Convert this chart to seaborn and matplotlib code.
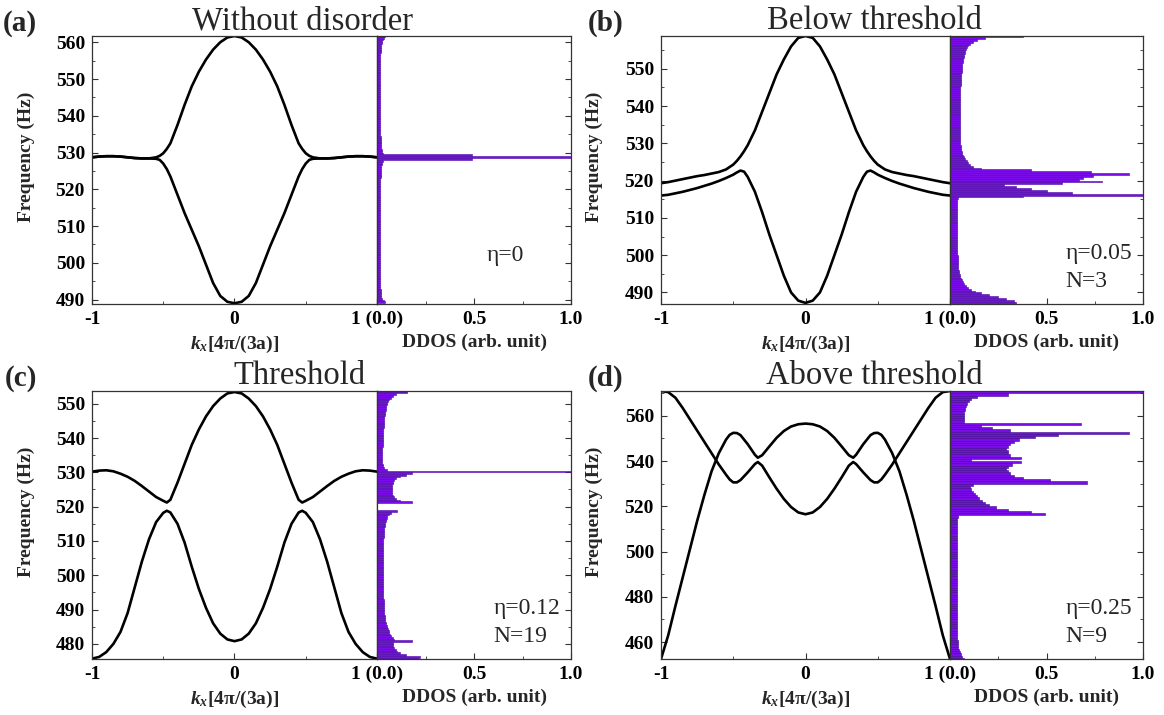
import numpy as np
import matplotlib
matplotlib.use("Agg")
import matplotlib.pyplot as plt
import seaborn as sns
from matplotlib.ticker import MultipleLocator, FixedLocator

sns.set_theme(style="white")
plt.rcParams['font.family'] = ['Liberation Serif', 'DejaVu Serif']
plt.rcParams['mathtext.fontset'] = 'custom'
plt.rcParams['mathtext.rm'] = 'Liberation Serif'
plt.rcParams['mathtext.it'] = 'Liberation Serif:italic'
plt.rcParams['mathtext.bf'] = 'Liberation Serif:bold'
try:
    plt.rcParams['mathtext.bfit'] = 'Liberation Serif:italic:bold'
except KeyError:
    pass

# ---------------- band-structure data ----------------
K_A = [-1.00, -0.95, -0.90, -0.85, -0.80, -0.75, -0.70, -0.65, -0.60, -0.55,
       -0.525, -0.50, -0.475, -0.45, -0.40, -0.35, -0.30, -0.25, -0.20, -0.15, -0.10, -0.05,
       0.00, 0.05, 0.10, 0.15, 0.20, 0.25, 0.30, 0.35, 0.40, 0.45, 0.475,
       0.50, 0.525, 0.55, 0.60, 0.65, 0.70, 0.75, 0.80, 0.85, 0.90, 0.95, 1.00]
A_UP = [528.7, 528.9, 529.0, 529.0, 528.9, 528.7, 528.5, 528.4, 528.4, 528.7,
        529.1, 529.8, 531.0, 532.5, 537.5, 543.0, 548.0, 552.0, 555.3, 558.0, 560.0, 561.3,
        561.7, 561.3, 560.0, 558.0, 555.3, 552.0, 548.0, 543.0, 537.5, 532.5, 531.0,
        529.8, 529.1, 528.7, 528.4, 528.4, 528.5, 528.7, 528.9, 529.0, 529.0, 528.9, 528.7]
A_LO = [528.7, 528.9, 529.0, 529.0, 528.9, 528.7, 528.5, 528.4, 528.4, 528.3,
        528.0, 527.0, 525.5, 523.5, 518.5, 513.5, 509.0, 504.5, 499.5, 494.5, 491.0, 489.4,
        489.0, 489.4, 491.0, 494.5, 499.5, 504.5, 509.0, 513.5, 518.5, 523.5, 525.5,
        527.0, 528.0, 528.3, 528.4, 528.4, 528.5, 528.7, 528.9, 529.0, 529.0, 528.9, 528.7]

K_B = [-1.00, -0.95, -0.90, -0.85, -0.80, -0.75, -0.70, -0.65, -0.60, -0.55,
       -0.50, -0.475, -0.45, -0.425, -0.40, -0.35, -0.30, -0.25, -0.20, -0.15, -0.10, -0.05,
       0.00, 0.05, 0.10, 0.15, 0.20, 0.25, 0.30, 0.35, 0.40, 0.425, 0.45, 0.475,
       0.50, 0.55, 0.60, 0.65, 0.70, 0.75, 0.80, 0.85, 0.90, 0.95, 1.00]
B_UP = [519.3, 519.6, 520.0, 520.4, 520.8, 521.2, 521.5, 521.9, 522.3, 523.0,
        524.3, 525.3, 526.5, 527.9, 529.5, 533.5, 538.5, 543.5, 548.5, 552.5, 556.0, 558.3,
        558.8, 558.3, 556.0, 552.5, 548.5, 543.5, 538.5, 533.5, 529.5, 527.9, 526.5, 525.3,
        524.3, 523.0, 522.3, 521.9, 521.5, 521.2, 520.8, 520.4, 520.0, 519.6, 519.3]
B_LO = [516.0, 516.2, 516.6, 517.0, 517.5, 518.0, 518.6, 519.2, 519.9, 520.7,
        521.6, 522.2, 522.7, 522.4, 521.0, 517.0, 511.5, 505.5, 500.0, 494.5, 490.0, 487.8,
        487.2, 487.8, 490.0, 494.5, 500.0, 505.5, 511.5, 517.0, 521.0, 522.4, 522.7, 522.2,
        521.6, 520.7, 519.9, 519.2, 518.6, 518.0, 517.5, 517.0, 516.6, 516.2, 516.0]

K_C = [-1.00, -0.95, -0.90, -0.85, -0.80, -0.75, -0.70, -0.65, -0.60, -0.55,
       -0.50, -0.475, -0.45, -0.40, -0.35, -0.30, -0.25, -0.20, -0.15, -0.10, -0.05,
       0.00, 0.05, 0.10, 0.15, 0.20, 0.25, 0.30, 0.35, 0.40, 0.45, 0.475,
       0.50, 0.55, 0.60, 0.65, 0.70, 0.75, 0.80, 0.85, 0.90, 0.95, 1.00]
C_UP = [530.2, 530.5, 530.6, 530.3, 529.6, 528.7, 527.5, 526.0, 524.4, 522.8,
        521.7, 521.2, 522.0, 527.0, 532.5, 538.0, 542.5, 546.3, 549.3, 551.5, 553.0,
        553.4, 553.0, 551.5, 549.3, 546.3, 542.5, 538.0, 532.5, 527.0, 522.0, 521.2,
        521.7, 522.8, 524.4, 526.0, 527.5, 528.7, 529.6, 530.3, 530.6, 530.5, 530.2]
C_LO = [475.7, 476.2, 477.6, 480.0, 483.5, 489.0, 496.5, 504.0, 510.5, 515.5,
        518.2, 518.8, 518.3, 515.0, 509.5, 502.5, 496.0, 490.5, 486.0, 483.0, 481.3,
        480.8, 481.3, 483.0, 486.0, 490.5, 496.0, 502.5, 509.5, 515.0, 518.3, 518.8,
        518.2, 515.5, 510.5, 504.0, 496.5, 489.0, 483.5, 480.0, 477.6, 476.2, 475.7]

K_D = [-1.00, -0.95, -0.90, -0.85, -0.80, -0.75, -0.70, -0.65, -0.60, -0.55,
       -0.525, -0.50, -0.475, -0.45, -0.40, -0.35, -0.33, -0.30, -0.25, -0.20, -0.15,
       -0.10, -0.05, 0.00, 0.05, 0.10,
       0.15, 0.20, 0.25, 0.30, 0.33, 0.35, 0.40, 0.45, 0.475, 0.50, 0.525,
       0.55, 0.60, 0.65, 0.70, 0.75, 0.80, 0.85, 0.90, 0.95, 1.00]
D_1 = [571.0, 570.5, 568.0, 563.5, 558.5, 553.5, 548.5, 543.5, 538.5, 534.0,
       531.9, 530.6, 530.6, 531.6, 535.0, 538.7, 539.6, 538.0, 532.8, 527.8, 523.3,
       519.7, 517.3, 516.5, 517.3, 519.7,
       523.3, 527.8, 532.8, 538.0, 539.6, 538.7, 535.0, 531.6, 530.6, 530.6, 531.9,
       534.0, 538.5, 543.5, 548.5, 553.5, 558.5, 563.5, 568.0, 570.5, 571.0]
D_2 = [452.5, 463.0, 476.0, 488.5, 501.0, 513.5, 525.0, 535.5, 543.5, 549.5,
       551.6, 552.5, 552.4, 551.5, 547.5, 542.8, 541.5, 542.6, 546.5, 550.3, 553.3,
       555.3, 556.3, 556.6, 556.3, 555.3,
       553.3, 550.3, 546.5, 542.6, 541.5, 542.8, 547.5, 551.5, 552.4, 552.5, 551.6,
       549.5, 543.5, 535.5, 525.0, 513.5, 501.0, 488.5, 476.0, 463.0, 452.5]

# ---------------- DDOS histogram data ----------------
DOS_A_START, DOS_A_BIN = 489.0, 0.5
DOS_A = [0.042, 0.034, 0.027, 0.023, 0.021, 0.020, 0.019, 0.019, 0.018, 0.018,
         0.018, 0.018, 0.017, 0.018, 0.017, 0.017, 0.018, 0.017, 0.017, 0.017,
         0.017, 0.017, 0.017, 0.017, 0.017, 0.017, 0.017, 0.017, 0.017, 0.017,
         0.017, 0.017, 0.017, 0.017, 0.017, 0.017, 0.017, 0.017, 0.017, 0.017,
         0.017, 0.017, 0.017, 0.017, 0.017, 0.017, 0.017, 0.017, 0.017, 0.017,
         0.017, 0.017, 0.017, 0.017, 0.017, 0.017, 0.017, 0.017, 0.017, 0.017,
         0.017, 0.017, 0.017, 0.017, 0.018, 0.018, 0.018, 0.018, 0.019, 0.019,
         0.019, 0.020, 0.020, 0.021, 0.022, 0.024, 0.027, 0.032, 0.490, 1.000,
         0.490, 0.032, 0.027, 0.024, 0.022, 0.021, 0.020, 0.020, 0.019, 0.019,
         0.019, 0.018, 0.018, 0.018, 0.018, 0.017, 0.017, 0.017, 0.017, 0.017,
         0.017, 0.017, 0.017, 0.017, 0.017, 0.017, 0.017, 0.017, 0.017, 0.017,
         0.017, 0.017, 0.017, 0.017, 0.017, 0.017, 0.017, 0.017, 0.017, 0.017,
         0.017, 0.017, 0.017, 0.017, 0.017, 0.017, 0.017, 0.017, 0.017, 0.017,
         0.017, 0.017, 0.018, 0.018, 0.018, 0.018, 0.019, 0.019, 0.020, 0.021,
         0.022, 0.024, 0.027, 0.031, 0.036, 0.042]

DOS_B_START, DOS_B_BIN = 487.0, 0.5
DOS_B = [0.340, 0.330, 0.290, 0.250, 0.200, 0.160, 0.130, 0.110, 0.095, 0.085,
         0.075, 0.068, 0.062, 0.058, 0.054, 0.051, 0.048, 0.046, 0.044, 0.043,
         0.042, 0.041, 0.040, 0.040, 0.039, 0.039, 0.038, 0.038, 0.037, 0.037,
         0.037, 0.036, 0.036, 0.036, 0.035, 0.035, 0.035, 0.035, 0.035, 0.034,
         0.034, 0.034, 0.034, 0.034, 0.034, 0.034, 0.034, 0.034, 0.034, 0.035,
         0.035, 0.035, 0.036, 0.036, 0.037, 0.038, 0.040, 0.380, 1.000, 0.630,
         0.500, 0.420, 0.340, 0.280, 0.580, 0.790, 0.670, 0.690, 0.740, 0.930,
         0.730, 0.420, 0.160, 0.120, 0.105, 0.095, 0.086, 0.078, 0.072, 0.068,
         0.064, 0.061, 0.058, 0.056, 0.055, 0.054, 0.053, 0.053, 0.052, 0.052,
         0.052, 0.052, 0.051, 0.051, 0.051, 0.051, 0.051, 0.051, 0.051, 0.051,
         0.051, 0.051, 0.051, 0.051, 0.051, 0.052, 0.052, 0.052, 0.052, 0.052,
         0.052, 0.053, 0.053, 0.053, 0.054, 0.054, 0.054, 0.055, 0.055, 0.056,
         0.056, 0.057, 0.058, 0.059, 0.060, 0.061, 0.062, 0.063, 0.064, 0.066,
         0.067, 0.069, 0.071, 0.073, 0.076, 0.079, 0.083, 0.088, 0.095, 0.105,
         0.120, 0.140, 0.180, 0.380]

DOS_C_START, DOS_C_BIN = 475.5, 0.5
DOS_C = [0.210, 0.220, 0.150, 0.120, 0.105, 0.097, 0.090, 0.085, 0.080, 0.085,
         0.180, 0.090, 0.080, 0.074, 0.068, 0.064, 0.060, 0.056, 0.052, 0.049,
         0.047, 0.045, 0.043, 0.041, 0.040, 0.039, 0.038, 0.037, 0.036, 0.036,
         0.035, 0.035, 0.034, 0.034, 0.034, 0.033, 0.033, 0.033, 0.033, 0.032,
         0.032, 0.032, 0.032, 0.032, 0.032, 0.031, 0.031, 0.031, 0.031, 0.031,
         0.031, 0.031, 0.031, 0.031, 0.031, 0.031, 0.031, 0.031, 0.031, 0.031,
         0.031, 0.031, 0.031, 0.031, 0.032, 0.032, 0.032, 0.032, 0.033, 0.033,
         0.033, 0.034, 0.034, 0.035, 0.036, 0.037, 0.038, 0.039, 0.041, 0.043,
         0.045, 0.047, 0.050, 0.054, 0.060, 0.070, 0.105, 0.000, 0.000, 0.000,
         0.000, 0.180, 0.120, 0.100, 0.090, 0.082, 0.078, 0.076, 0.076, 0.076,
         0.077, 0.079, 0.081, 0.084, 0.090, 0.100, 0.120, 0.150, 0.180, 1.000,
         0.050, 0.035, 0.031, 0.029, 0.028, 0.028, 0.028, 0.028, 0.028, 0.028,
         0.028, 0.028, 0.028, 0.028, 0.029, 0.029, 0.029, 0.030, 0.030, 0.031,
         0.031, 0.032, 0.032, 0.033, 0.033, 0.034, 0.034, 0.035, 0.035, 0.036,
         0.037, 0.038, 0.039, 0.040, 0.042, 0.044, 0.046, 0.048, 0.051, 0.054,
         0.058, 0.064, 0.072, 0.085, 0.100, 0.157, 0.157]

DOS_D_START, DOS_D_BIN = 452.0, 1.0
DOS_D = [0.070, 0.062, 0.055, 0.050, 0.046, 0.043, 0.041, 0.040, 0.039, 0.038,
         0.038, 0.037, 0.037, 0.037, 0.036, 0.036, 0.036, 0.036, 0.036, 0.036,
         0.036, 0.035, 0.035, 0.035, 0.035, 0.035, 0.035, 0.035, 0.035, 0.035,
         0.035, 0.035, 0.035, 0.035, 0.035, 0.035, 0.035, 0.035, 0.035, 0.035,
         0.035, 0.035, 0.035, 0.035, 0.035, 0.035, 0.035, 0.035, 0.035, 0.035,
         0.035, 0.035, 0.035, 0.035, 0.035, 0.035, 0.036, 0.036, 0.036, 0.036,
         0.037, 0.037, 0.038, 0.040, 0.490, 0.420, 0.300, 0.240, 0.200, 0.180,
         0.165, 0.150, 0.140, 0.130, 0.120, 0.110, 0.105, 0.120, 0.710, 0.520,
         0.380, 0.330, 0.310, 0.300, 0.290, 0.300, 0.320, 0.370, 0.110, 0.370,
         0.310, 0.300, 0.300, 0.290, 0.300, 0.310, 0.330, 0.360, 0.440, 0.560,
         0.930, 0.310, 0.220, 0.160, 0.680, 0.075, 0.073, 0.073, 0.074, 0.075,
         0.077, 0.079, 0.083, 0.088, 0.097, 0.110, 0.140, 0.300, 1.000]

PANELS = [
    dict(label="(a)", title="Without disorder", k=K_A, up=A_UP, lo=A_LO,
         ylim=(488.8, 561.7), yticks=[490, 500, 510, 520, 530, 540, 550, 560], ymin=5,
         dos=DOS_A, dstart=DOS_A_START, dbin=DOS_A_BIN, notes=["η=0"]),
    dict(label="(b)", title="Below threshold", k=K_B, up=B_UP, lo=B_LO,
         ylim=(486.9, 558.8), yticks=[490, 500, 510, 520, 530, 540, 550], ymin=5,
         dos=DOS_B, dstart=DOS_B_START, dbin=DOS_B_BIN, notes=["η=0.05", "N=3"]),
    dict(label="(c)", title="Threshold", k=K_C, up=C_UP, lo=C_LO,
         ylim=(475.6, 553.7), yticks=[480, 490, 500, 510, 520, 530, 540, 550], ymin=5,
         dos=DOS_C, dstart=DOS_C_START, dbin=DOS_C_BIN, notes=["η=0.12", "N=19"]),
    dict(label="(d)", title="Above threshold", k=K_D, up=D_1, lo=D_2,
         ylim=(452.5, 571.0), yticks=[460, 480, 500, 520, 540, 560], ymin=10,
         dos=DOS_D, dstart=DOS_D_START, dbin=DOS_D_BIN, notes=["η=0.25", "N=9"]),
]

# ---------------- layout (pixels) ----------------
W, H = 1164, 715
GEOM = [  # band x0, boundary, dos x1, top, bottom, title center, title base, label x, label base
    (92, 377, 571, 36, 304, 302, 29, 3, 31),
    (661, 950, 1143, 36, 304, 874, 29, 588, 31),
    (92, 377, 571, 391, 659, 300, 384, 5, 386),
    (661, 950, 1143, 391, 659, 874, 384, 588, 386),
]
EDGES = ["#4c0aa0", "#4c0aa0", "#4c0aa0", "#3c0a88"]

def rect(x0, x1, yt, yb):
    return [x0 / W, 1 - yb / H, (x1 - x0) / W, (yb - yt) / H]

PURPLE = "#7a0cea"
SPINE = "#333333"
TICKFS = 14

fig = plt.figure(figsize=(W / 100, H / 100), dpi=100)

for P, (x0, xb, x1, yt, yb, tcx, tby, lx, lby), edge in zip(PANELS, GEOM, EDGES):
    axb = fig.add_axes(rect(x0, xb, yt, yb))
    axd = fig.add_axes(rect(xb, x1, yt, yb))

    # band structure
    sns.lineplot(x=P["k"], y=P["up"], ax=axb, color="black", linewidth=1.9,
                 estimator=None, sort=False)
    sns.lineplot(x=P["k"], y=P["lo"], ax=axb, color="black", linewidth=1.9,
                 estimator=None, sort=False)
    axb.set_xlim(-1, 1)
    axb.set_ylim(*P["ylim"])

    # DDOS histogram
    n = len(P["dos"])
    centers = P["dstart"] + P["dbin"] * (np.arange(n) + 0.5)
    sns.histplot(y=centers, weights=P["dos"], binwidth=P["dbin"],
                 binrange=(P["dstart"], P["dstart"] + P["dbin"] * n),
                 ax=axd, color=PURPLE, edgecolor=edge, linewidth=0.4, alpha=1.0)
    axd.set_xlim(0, 1)
    axd.set_ylim(*P["ylim"])

    # ticks / spines
    for ax in (axb, axd):
        for s in ax.spines.values():
            s.set_color(SPINE)
            s.set_linewidth(0.9)
        ax.set_xlabel("")
        ax.set_ylabel("")
        ax.grid(False)

    axb.set_xticks([-1, 0, 1])
    axb.set_xticklabels(["-1", "0", ""])
    axb.xaxis.set_minor_locator(FixedLocator([-0.5, 0.5]))
    axb.set_yticks(P["yticks"])
    axb.yaxis.set_minor_locator(MultipleLocator(P["ymin"]))
    axb.tick_params(axis="both", which="both", direction="in", left=True, bottom=True,
                    right=False, top=False, colors=SPINE, labelcolor="black")
    axb.tick_params(axis="both", which="major", length=4.5, width=0.8,
                    labelsize=TICKFS, pad=5)
    axb.tick_params(axis="both", which="minor", length=2.5, width=0.6)

    axd.set_xticks([0, 0.5, 1.0])
    axd.set_xticklabels(["1 (0.0)", "0.5", "1.0"])
    axd.xaxis.set_minor_locator(FixedLocator([0.25, 0.75]))
    axd.set_yticks(P["yticks"])
    axd.yaxis.set_minor_locator(MultipleLocator(P["ymin"]))
    axd.tick_params(axis="both", which="both", direction="in", left=False, bottom=True,
                    right=True, top=False, labelleft=False, labelright=False,
                    colors=SPINE, labelcolor="black")
    axd.tick_params(axis="both", which="major", length=4.5, width=0.8,
                    labelsize=TICKFS, pad=5)
    axd.tick_params(axis="both", which="minor", length=2.5, width=0.6)

    for lab in axb.get_xticklabels() + axb.get_yticklabels() + axd.get_xticklabels():
        lab.set_fontweight("bold")

    # axis labels
    axb.set_ylabel("Frequency (Hz)", fontsize=14, fontweight="bold")
    axb.yaxis.set_label_coords(-0.2, 0.55)
    axb.set_xlabel(r"$\mathbfit{k}_{\mathbfit{x}}$[4π/(3a)]", fontsize=14,
                   fontweight="bold")
    axb.xaxis.set_label_coords(0.5, -0.112)
    axd.set_xlabel("DDOS (arb. unit)", fontsize=14, fontweight="bold")
    axd.xaxis.set_label_coords(0.5, -0.112)

    # annotations
    if len(P["notes"]) == 1:
        axd.text(0.567, 0.18, P["notes"][0], transform=axd.transAxes, fontsize=17,
                 ha="left", va="center")
    else:
        axd.text(0.60, 0.19, P["notes"][0], transform=axd.transAxes, fontsize=17,
                 ha="left", va="center")
        axd.text(0.60, 0.085, P["notes"][1], transform=axd.transAxes, fontsize=17,
                 ha="left", va="center")

    fig.text(tcx / W, 1 - tby / H, P["title"], fontsize=23.5, ha="center",
             va="baseline")
    fig.text(lx / W, 1 - lby / H, P["label"], fontsize=21, fontweight="bold",
             ha="left", va="baseline")

fig.savefig("out.png", dpi=100, facecolor="white")
